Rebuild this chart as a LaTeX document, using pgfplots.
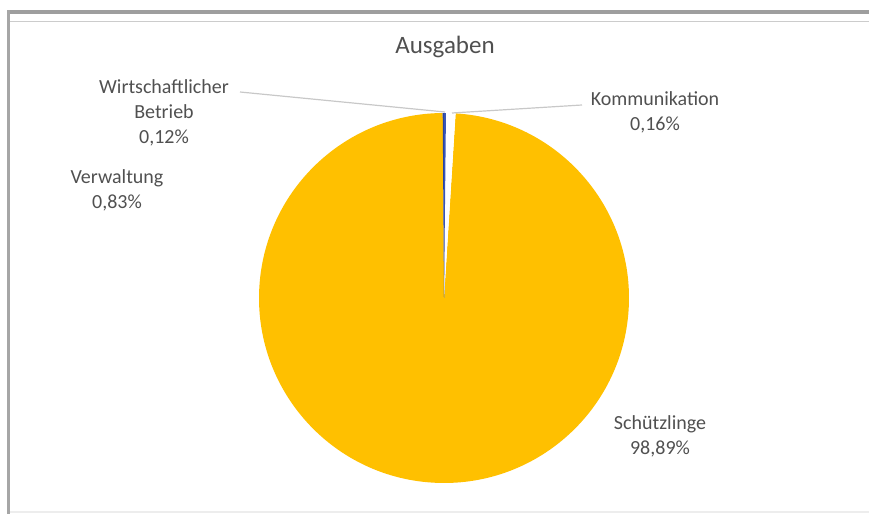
\documentclass[border=0pt]{standalone}
\usepackage{pgfplots}
\pgfplotsset{compat=1.18}
\usepackage{fontspec}
\setmainfont{Carlito}

\definecolor{gold}{HTML}{FFC000}
\definecolor{dblue}{HTML}{2A44A0}
\definecolor{mblue}{HTML}{3A58B8}
\definecolor{txt}{HTML}{505050}
\definecolor{leader}{HTML}{C8C8C8}

% shares in percent
\def\pWirt{0.12}
\def\pKomm{0.16}
\def\pVerw{0.83}
\def\pSchu{98.89}

\begin{document}
\begin{tikzpicture}
\begin{axis}[
  width=869bp, height=514bp, scale only axis,
  xmin=0, xmax=869, ymin=0, ymax=514,
  hide axis, clip=false,
]
% pie, clockwise from 12 o'clock, centre (444,216), radius 185
\pgfmathsetmacro{\aA}{90.4}
\pgfmathsetmacro{\aB}{\aA-3.6*\pWirt}
\pgfmathsetmacro{\aC}{\aB-3.6*\pKomm}
\pgfmathsetmacro{\aD}{\aC-3.6*\pVerw}
\pgfmathsetmacro{\aE}{\aD-3.6*\pSchu}
\fill[gold] (axis cs:444,216) -- ++(\aD:185bp) arc[start angle=\aD, end angle=\aE, radius=185bp] -- cycle;
\fill[white] (axis cs:444,216) -- ++(\aC:185bp) arc[start angle=\aC, end angle=\aD, radius=185bp] -- cycle;
\fill[mblue] (axis cs:444,216) -- ++(\aB:185bp) arc[start angle=\aB, end angle=\aC, radius=185bp] -- cycle;
\fill[dblue] (axis cs:444,216) -- ++(\aA:185bp) arc[start angle=\aA, end angle=\aB, radius=185bp] -- cycle;

% leader lines
\draw[leader, line width=1.2bp] (axis cs:240,422) -- (axis cs:445,402);
\draw[leader, line width=1.2bp] (axis cs:582,409) -- (axis cs:452,401);

% title and labels
\node[txt, font=\fontsize{25bp}{30bp}\selectfont] at (axis cs:445,467) {Ausgaben};
\node[txt, font=\fontsize{20bp}{25bp}\selectfont, align=center] at (axis cs:164,401) {Wirtschaftlicher\\Betrieb\\0,12\%};
\node[txt, font=\fontsize{20bp}{25bp}\selectfont, align=center] at (axis cs:117,324) {Verwaltung\\0,83\%};
\node[txt, font=\fontsize{20bp}{25bp}\selectfont, align=center] at (axis cs:655,402) {Kommunikation\\0,16\%};
\node[txt, font=\fontsize{20bp}{25bp}\selectfont, align=center] at (axis cs:660,78) {Schützlinge\\98,89\%};

% frame of the screenshot
\fill[black!38] (axis cs:8,500) rectangle (axis cs:869,504);
\draw[black!20, line width=1bp] (axis cs:10,492) -- (axis cs:869,492);
\fill[black!35] (axis cs:7,0) rectangle (axis cs:10,504);
\draw[black!7, line width=1.5bp] (axis cs:10,2) -- (axis cs:869,2);
\end{axis}
\pgfresetboundingbox
\useasboundingbox (0,0) rectangle (869bp,514bp);
\end{tikzpicture}
\end{document}
